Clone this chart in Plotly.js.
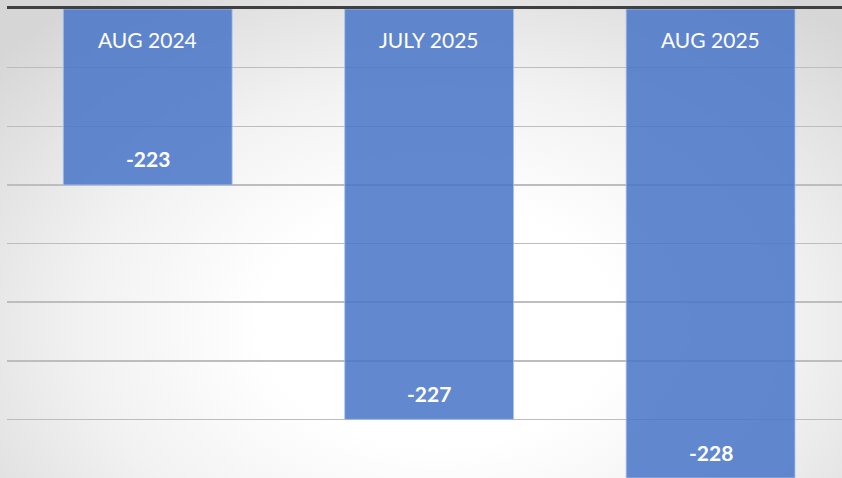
<!DOCTYPE html>
<html>
<head>
<meta charset="utf-8">
<script src="https://cdn.plot.ly/plotly-3.0.1.min.js"></script>
<style>
  html, body { margin: 0; padding: 0; overflow: hidden; }
  body {
    width: 842px; height: 478px;
    background: radial-gradient(ellipse 70% 85% at 52% 68%, #ffffff 30%, #f2f2f2 60%, #d6d6d6 100%);
  }
  #chart { width: 842px; height: 478px; }
</style>
</head>
<body>
<div id="chart"></div>
<script>
const categories = ["AUG 2024", "JULY 2025", "AUG 2025"];
const values = [-223, -227, -228];
const valueLabels = ["-223", "-227", "-228"];
const yTop = -220;
const yBottom = -228;

const trace = {
  type: "bar",
  x: categories,
  y: values.map(v => v - yTop),
  base: yTop,
  width: 0.6,
  marker: {
    color: "rgba(72,118,200,0.86)",
    line: { color: "rgba(170,195,235,0.8)", width: 1 }
  },
  hoverinfo: "skip"
};

const annotations = [];
categories.forEach((c, i) => {
  annotations.push({
    x: c, y: yTop, xref: "x", yref: "y",
    text: c, showarrow: false,
    yanchor: "middle", yshift: -30,
    font: { family: "Lato, 'Open Sans', sans-serif", size: 21, color: "#ffffff" }
  });
  annotations.push({
    x: c, y: values[i], xref: "x", yref: "y",
    text: "<b>" + valueLabels[i] + "</b>", showarrow: false,
    yanchor: "middle", yshift: 26,
    font: { family: "Lato, 'Open Sans', sans-serif", size: 21, color: "#ffffff" }
  });
});

const layout = {
  width: 842, height: 478,
  margin: { l: 7, r: 0, t: 9, b: 0, pad: 0 },
  paper_bgcolor: "rgba(0,0,0,0)",
  plot_bgcolor: "rgba(0,0,0,0)",
  showlegend: false,
  xaxis: {
    type: "category",
    range: [-0.5, 2.467],
    side: "top",
    showline: true, linecolor: "#404040", linewidth: 3.5,
    showgrid: false, showticklabels: false, ticks: "",
    zeroline: false, fixedrange: true
  },
  yaxis: {
    range: [yBottom, yTop],
    tick0: -228, dtick: 1,
    showgrid: true, gridcolor: "#bdbdbd", gridwidth: 1.5,
    showticklabels: false, ticks: "", zeroline: false,
    showline: false, fixedrange: true
  },
  annotations: annotations
};

Plotly.newPlot("chart", [trace], layout, { displayModeBar: false, staticPlot: true });
</script>
</body>
</html>
